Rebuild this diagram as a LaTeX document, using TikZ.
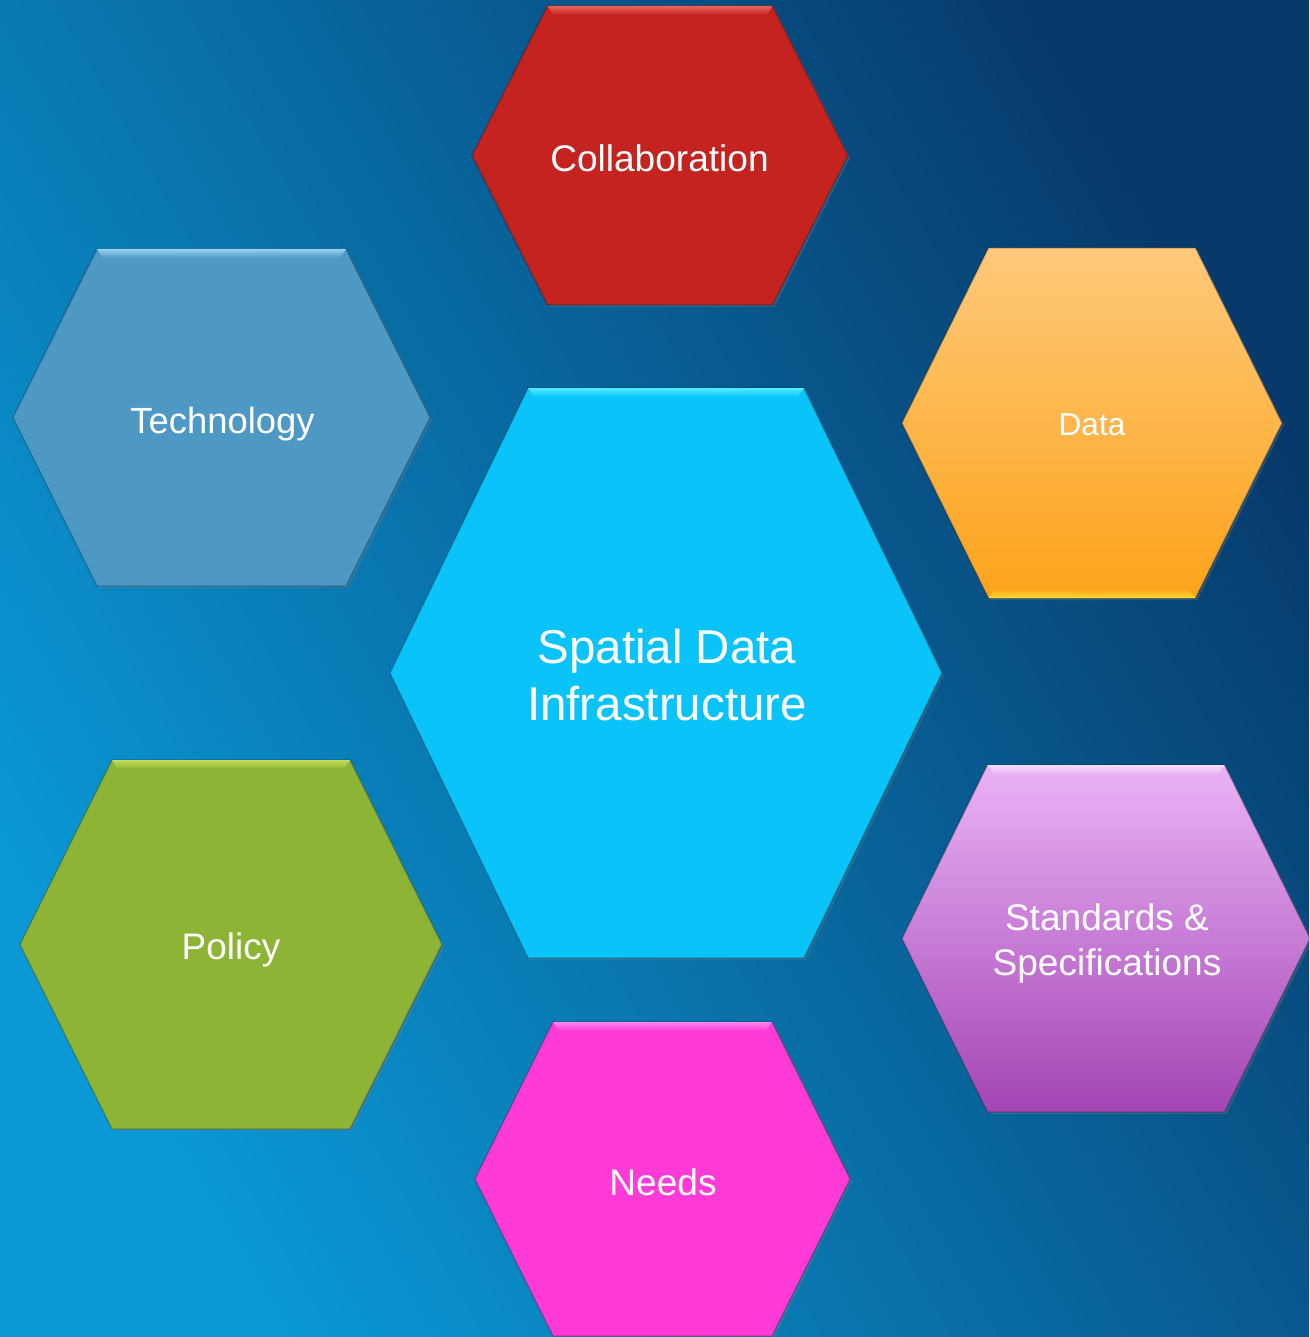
\documentclass[tikz,border=0pt]{standalone}
\usepackage{fontspec}
\setmainfont{Liberation Sans}
\usetikzlibrary{shadows}
\definecolor{bgdark}{HTML}{073A6B}
\definecolor{bglight}{HTML}{0A98D6}
\definecolor{collabc}{HTML}{C4231F}
\definecolor{collabh}{HTML}{E8645A}
\definecolor{techc}{HTML}{4E98C4}
\definecolor{techh}{HTML}{95D2F2}
\definecolor{datat}{HTML}{FEC97A}
\definecolor{datab}{HTML}{FDA31B}
\definecolor{datah}{HTML}{FFDC2E}
\definecolor{sdic}{HTML}{0AC3F8}
\definecolor{sdih}{HTML}{52ECFF}
\definecolor{policyc}{HTML}{8DB434}
\definecolor{policyh}{HTML}{C3DE58}
\definecolor{stdt}{HTML}{EAB3F6}
\definecolor{stdb}{HTML}{A445B5}
\definecolor{stdh}{HTML}{F6DDFB}
\definecolor{needsc}{HTML}{FF3AD6}
\definecolor{needsh}{HTML}{FF85EC}
\newcommand\hexshape[6]{% style, cx, cy, half width, half top edge, half height
  \path[#1] ({#2-#4},{#3}) -- ({#2-#5},{#3-#6}) -- ({#2+#5},{#3-#6}) -- ({#2+#4},{#3})
    -- ({#2+#5},{#3+#6}) -- ({#2-#5},{#3+#6}) -- cycle;}
\newcommand\hextopstrip[5]{% style, cx, cy, half top edge, half height
  \path[#1] ({#2-#4},{#3-#5}) -- ({#2+#4},{#3-#5}) -- ({#2+#4-6},{#3-#5+9}) -- ({#2-#4+6},{#3-#5+9}) -- cycle;}
\newcommand\hexbotstrip[5]{% style, cx, cy, half top edge, half height
  \path[#1] ({#2-#4},{#3+#5}) -- ({#2+#4},{#3+#5}) -- ({#2+#4-6},{#3+#5-9}) -- ({#2-#4+6},{#3+#5-9}) -- cycle;}
\tikzset{
  hexbase/.style={drop shadow={opacity=0.3, shadow xshift=1.5pt, shadow yshift=-1.5pt},
    draw=black, draw opacity=0.22, line width=1pt},
  lbl/.style={text=white, inner sep=0pt, align=center},
}
\begin{document}
\begin{tikzpicture}[x=0.75pt, y=-0.75pt]
\useasboundingbox (0,0) rectangle (1309,1337);
\clip (0,0) rectangle (1309,1337);
\shade[top color=bgdark, bottom color=bglight, shading angle=-60] (0,0) rectangle (1309,1337);

% Collaboration
\hexshape{hexbase, fill=collabc}{660}{155.5}{188}{112.5}{149.5}
\hextopstrip{top color=collabh, bottom color=collabc}{660}{155.5}{112.5}{149.5}
% Technology
\hexshape{hexbase, fill=techc}{221.5}{417.5}{208.5}{124.5}{168.5}
\hextopstrip{top color=techh, bottom color=techc}{221.5}{417.5}{124.5}{168.5}
% Data
\hexshape{hexbase, top color=datat, bottom color=datab}{1092}{423}{190}{103.5}{175}
\hexbotstrip{top color=datab, bottom color=datah}{1092}{423}{103.5}{175}
% Centre
\hexshape{hexbase, fill=sdic}{666}{673}{276}{138}{285}
\hextopstrip{top color=sdih, bottom color=sdic}{666}{673}{138}{285}
% Policy
\hexshape{hexbase, fill=policyc}{231}{944.5}{211}{119}{184.5}
\hextopstrip{top color=policyh, bottom color=policyc}{231}{944.5}{119}{184.5}
% Standards
\hexshape{hexbase, top color=stdt, bottom color=stdb}{1106}{938.5}{204}{118.5}{173.5}
\hextopstrip{top color=stdh, bottom color=stdt}{1106}{938.5}{118.5}{173.5}
% Needs
\hexshape{hexbase, fill=needsc}{662.5}{1179}{187.5}{109.5}{157}
\hextopstrip{top color=needsh, bottom color=needsc}{662.5}{1179}{109.5}{157}

\node[lbl, anchor=base, font=\fontsize{27.8}{33}\selectfont] (collab) at (659.5,172) {Collaboration};
\node[lbl, anchor=base, font=\fontsize{27.3}{33}\selectfont] (tech) at (222.5,433) {Technology};
\node[lbl, anchor=base, font=\fontsize{23.8}{28}\selectfont] (data) at (1092,435) {Data};
\node[lbl, anchor=center, font=\fontsize{35.6}{42.4}\selectfont] (sdi) at (667,675) {Spatial Data\\Infrastructure};
\node[lbl, anchor=base, font=\fontsize{27.7}{33}\selectfont] (policy) at (231,959) {Policy};
\node[lbl, anchor=center, font=\fontsize{27.8}{33.8}\selectfont] (std) at (1107,943) {Standards \&\\Specifications};
\node[lbl, anchor=base, font=\fontsize{27.8}{33}\selectfont] (needs) at (663,1195) {Needs};
\end{tikzpicture}
\end{document}
